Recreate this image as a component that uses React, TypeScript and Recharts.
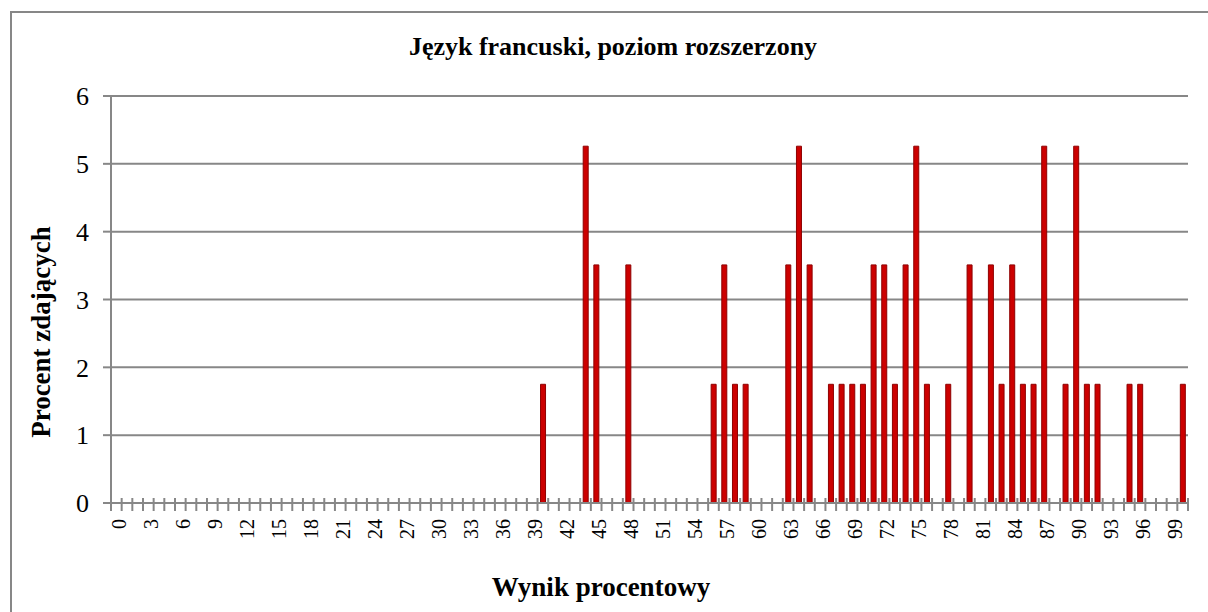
import React from 'react'
import { BarChart, Bar, XAxis, YAxis, CartesianGrid } from 'recharts'

// wynik procentowy (0-100)
const scores = [
  0, 1, 2, 3, 4, 5, 6, 7, 8, 9, 10, 11, 12, 13, 14, 15, 16, 17, 18, 19, 20,
  21, 22, 23, 24, 25, 26, 27, 28, 29, 30, 31, 32, 33, 34, 35, 36, 37, 38, 39, 40,
  41, 42, 43, 44, 45, 46, 47, 48, 49, 50, 51, 52, 53, 54, 55, 56, 57, 58, 59, 60,
  61, 62, 63, 64, 65, 66, 67, 68, 69, 70, 71, 72, 73, 74, 75, 76, 77, 78, 79, 80,
  81, 82, 83, 84, 85, 86, 87, 88, 89, 90, 91, 92, 93, 94, 95, 96, 97, 98, 99, 100,
]

// wyniki, które ktoś uzyskał, i procent zdających z takim wynikiem
const hitScores = [
  40, 44, 45, 48, 56, 57, 58, 59, 63, 64, 65, 67, 68, 69, 70, 71, 72, 73, 74, 75,
  76, 78, 80, 82, 83, 84, 85, 86, 87, 89, 90, 91, 92, 95, 96, 100,
]
const hitPercents = [
  1.75, 5.26, 3.51, 3.51, 1.75, 3.51, 1.75, 1.75, 3.51, 5.26, 3.51, 1.75, 1.75, 1.75, 1.75, 3.51, 3.51, 1.75, 3.51, 5.26,
  1.75, 1.75, 3.51, 3.51, 1.75, 3.51, 1.75, 1.75, 5.26, 1.75, 5.26, 1.75, 1.75, 1.75, 1.75, 1.75,
]

const yTicks = [0, 1, 2, 3, 4, 5, 6]

const data = scores.map((s) => {
  const k = hitScores.indexOf(s)
  return { wynik: s, procent: k >= 0 ? hitPercents[k] : 0 }
})

const PLOT_LEFT = 111
const PLOT_RIGHT = 1188
const BAND = (PLOT_RIGHT - PLOT_LEFT) / scores.length
const GREY = '#878787'
const FONT = '"Liberation Serif", "Times New Roman", serif'

const ScoreTick = (props: any) => {
  const { x, y, payload } = props
  const i = payload.index ?? props.index
  return (
    <g>
      <line x1={x - BAND / 2} x2={x - BAND / 2} y1={y - 5} y2={y + 8} stroke={GREY} strokeWidth={2} />
      {i === scores.length - 1 && (
        <line x1={x + BAND / 2} x2={x + BAND / 2} y1={y - 5} y2={y + 8} stroke={GREY} strokeWidth={2} />
      )}
      {i % 3 === 0 && (
        <text
          transform={`translate(${x + 3},${y + 16}) rotate(-90)`}
          textAnchor="end"
          dominantBaseline="central"
          fontSize={20}
          fontFamily={FONT}
          fill="#000"
        >
          {payload.value}
        </text>
      )}
    </g>
  )
}

export default function App() {
  return (
    <div style={{ position: 'absolute', left: 0, top: 0, width: 1208, height: 612, background: '#fff', fontFamily: FONT }}>
      <div
        style={{
          position: 'absolute',
          left: 10,
          top: 11,
          width: 1210,
          height: 620,
          borderLeft: `2px solid ${GREY}`,
          borderTop: `2px solid ${GREY}`,
        }}
      />
      <BarChart
        width={1208}
        height={612}
        data={data}
        barSize={5}
        margin={{ top: 96, right: 20, left: 51, bottom: 49 }}
      >
        <CartesianGrid vertical={false} stroke={GREY} strokeWidth={2} />
        <XAxis
          dataKey="wynik"
          interval={0}
          height={60}
          tickSize={0}
          tickMargin={0}
          tickLine={false}
          axisLine={{ stroke: GREY, strokeWidth: 2 }}
          tick={<ScoreTick />}
        />
        <YAxis
          width={60}
          domain={[0, 6]}
          ticks={yTicks}
          interval={0}
          tickSize={8}
          tickMargin={14}
          axisLine={{ stroke: GREY, strokeWidth: 2 }}
          tickLine={{ stroke: GREY, strokeWidth: 2 }}
          tick={{ fill: '#000', fontSize: 26, fontFamily: FONT }}
        />
        <Bar dataKey="procent" fill="#cc0000" stroke="#8e0000" strokeWidth={1} isAnimationActive={false} />
      </BarChart>
      <div
        style={{
          position: 'absolute',
          left: 0,
          width: 1226,
          top: 32,
          textAlign: 'center',
          fontWeight: 'bold',
          fontSize: 26,
          lineHeight: '30px',
        }}
      >
        Język francuski, poziom rozszerzony
      </div>
      <div
        style={{
          position: 'absolute',
          left: 0,
          width: 1202,
          top: 572,
          textAlign: 'center',
          fontWeight: 'bold',
          fontSize: 27,
          lineHeight: '31px',
        }}
      >
        Wynik procentowy
      </div>
      <div
        style={{
          position: 'absolute',
          left: 41,
          top: 332,
          width: 300,
          marginLeft: -150,
          marginTop: -15,
          textAlign: 'center',
          fontWeight: 'bold',
          fontSize: 27,
          lineHeight: '30px',
          transform: 'rotate(-90deg)',
        }}
      >
        Procent zdających
      </div>
    </div>
  )
}
